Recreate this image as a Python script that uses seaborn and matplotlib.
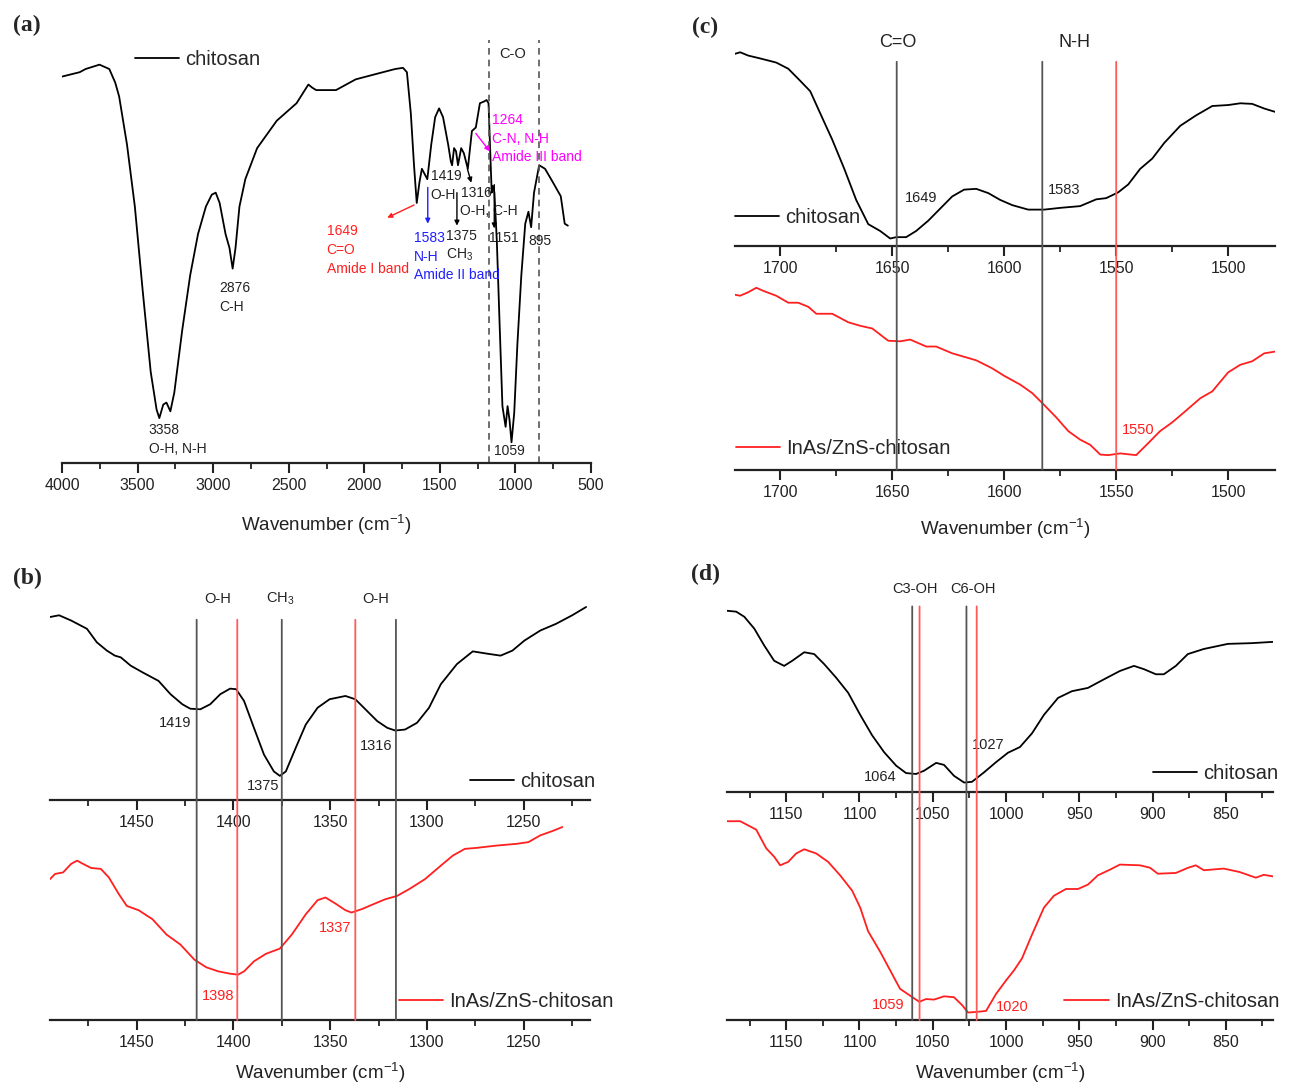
import matplotlib
matplotlib.use("Agg")
import matplotlib.pyplot as plt
import seaborn as sns
from matplotlib.patches import ConnectionPatch
from matplotlib.ticker import MultipleLocator

sns.set_theme(style="white")
plt.rcParams['font.family'] = ['Liberation Sans', 'DejaVu Sans']
plt.rcParams['mathtext.default'] = 'regular'
plt.rcParams['axes.unicode_minus'] = False

RED = '#ff1f1f'
BLUE = '#2020ff'
MAGENTA = '#ff00ff'
GREY = '#555555'

# ---- (a) full chitosan spectrum: wavenumber / transmittance (a.u.)
a_wn = [4000, 3883, 3844, 3752, 3687, 3648, 3622, 3570, 3518, 3465, 3413, 3374, 3356,
        3330, 3309, 3283, 3257, 3205, 3152, 3100, 3048, 3009, 2983, 2957, 2918, 2892,
        2871, 2852, 2826, 2787, 2709, 2579, 2448, 2370, 2344, 2318, 2187, 2057, 1927,
        1796, 1744, 1718, 1692, 1671, 1653, 1635, 1619, 1601, 1583, 1557, 1531, 1505,
        1479, 1445, 1427, 1419, 1406, 1393, 1380, 1359, 1341, 1315, 1288, 1262, 1235,
        1209, 1191, 1178, 1170, 1157, 1149, 1139, 1123, 1104, 1086, 1065, 1052, 1039,
        1026, 1008, 987, 961, 935, 914, 896, 877, 843, 804, 752, 700, 674, 653]
a_t = [97.2, 98.3, 99.1, 100.2, 99.1, 95.7, 92.2, 80.1, 64.5, 42.9, 22.9, 13.4, 11.3,
       14.7, 15.2, 13.0, 17.7, 33.3, 47.2, 57.6, 64.5, 67.5, 68.0, 65.4, 57.6, 54.1,
       48.9, 54.1, 64.5, 71.4, 79.2, 86.1, 90.5, 95.2, 94.4, 93.8, 93.8, 96.5, 97.8,
       99.1, 99.4, 98.3, 87.9, 74.9, 65.4, 70.6, 74.0, 72.7, 71.4, 80.1, 87.0, 89.2,
       87.0, 80.1, 75.8, 74.9, 79.2, 78.4, 74.9, 79.2, 77.9, 74.0, 83.5, 84.4, 90.5,
       90.9, 91.3, 90.5, 81.8, 68.0, 69.7, 68.0, 55.8, 34.2, 14.3, 9.1, 14.3, 10.8,
       5.2, 12.6, 29.9, 47.2, 60.2, 63.2, 59.3, 68.0, 74.9, 74.0, 70.6, 67.1, 60.2, 59.7]
a_ticks = [4000, 3500, 3000, 2500, 2000, 1500, 1000, 500]
a_bands = [1178, 844]

# ---- (b) 1500-1200 region
b_wn_chi = [1494.8, 1490.1, 1483.9, 1475.7, 1470.6, 1465.4, 1461.3, 1458.2, 1453.1, 1446.9,
            1438.7, 1432.5, 1426.4, 1422.3, 1417.1, 1412.0, 1406.8, 1401.7, 1398.6, 1394.5,
            1389.4, 1384.2, 1379.1, 1376.0, 1372.9, 1367.8, 1362.6, 1356.5, 1350.3, 1342.1,
            1337.0, 1331.8, 1325.7, 1320.5, 1316.4, 1311.3, 1305.1, 1298.9, 1292.8, 1284.5,
            1276.3, 1268.1, 1261.9, 1255.8, 1249.6, 1241.4, 1233.2, 1224.9, 1217.7]
b_t_chi = [94.8, 95.7, 93.0, 88.7, 81.7, 77.4, 74.8, 73.9, 69.6, 66.1,
           61.7, 54.8, 49.6, 47.3, 47.0, 49.6, 54.8, 57.7, 57.4, 51.3,
           37.4, 23.5, 14.8, 12.5, 14.8, 27.0, 39.1, 47.8, 52.2, 53.9,
           52.2, 47.0, 40.9, 37.4, 36.0, 36.5, 40.0, 47.8, 60.0, 70.4,
           77.0, 75.7, 74.8, 77.4, 82.6, 87.8, 91.3, 95.7, 100.0]
b_wn_qd = [1494.8, 1492.2, 1488.0, 1483.9, 1480.8, 1477.7, 1473.6, 1468.5, 1464.4, 1459.2,
           1455.1, 1449.0, 1441.8, 1434.6, 1427.4, 1420.2, 1414.0, 1407.8, 1401.7, 1397.6,
           1394.5, 1389.4, 1383.2, 1376.0, 1369.8, 1362.6, 1356.5, 1352.4, 1347.2, 1342.1,
           1339.0, 1333.8, 1327.7, 1321.5, 1315.4, 1309.2, 1301.0, 1292.8, 1286.6, 1280.4,
           1274.3, 1264.0, 1253.7, 1247.5, 1241.4, 1235.2, 1230.0]
b_t_qd = [73.0, 75.7, 76.5, 80.9, 82.6, 80.9, 78.8, 78.3, 73.9, 65.2,
          59.1, 56.9, 52.2, 44.3, 39.1, 31.3, 27.3, 25.2, 24.0, 23.5,
          25.2, 30.4, 34.3, 37.0, 44.3, 54.8, 62.1, 63.5, 60.3, 56.9,
          55.7, 57.4, 60.0, 62.6, 64.3, 67.8, 73.0, 80.0, 85.2, 88.7,
          89.2, 90.4, 91.3, 92.2, 95.7, 97.9, 100.0]
b_ticks = [1450, 1400, 1350, 1300, 1250]
b_lines_chi = [1419, 1375, 1316]
b_lines_qd = [1398, 1337]

# ---- (c) amide region
c_wn_chi = [1720.2, 1717.9, 1714.3, 1708.9, 1701.8, 1696.4, 1691.1, 1686.6, 1682.1, 1676.8,
            1671.4, 1666.1, 1660.7, 1655.4, 1650.9, 1648.2, 1643.8, 1639.3, 1633.9, 1628.6,
            1623.2, 1617.9, 1612.5, 1607.1, 1601.8, 1596.4, 1589.3, 1582.1, 1575.0, 1566.1,
            1558.9, 1554.5, 1549.1, 1544.6, 1539.3, 1533.9, 1528.6, 1521.4, 1514.3, 1507.1,
            1500.0, 1494.6, 1489.3, 1483.9, 1479.1]
c_t_chi = [98.8, 99.6, 97.9, 96.4, 94.3, 91.1, 84.9, 79.5, 68.0, 54.6,
           39.5, 23.5, 11.0, 7.5, 3.6, 4.3, 4.3, 7.5, 12.8, 19.0,
           25.3, 28.8, 29.2, 27.0, 23.5, 20.8, 18.5, 18.5, 19.4, 20.3,
           23.8, 24.4, 27.4, 31.5, 39.5, 44.8, 52.8, 61.7, 67.1, 71.9,
           72.4, 73.3, 73.0, 70.6, 68.9]
c_wn_qd = [1720.2, 1717.9, 1714.3, 1710.7, 1707.1, 1701.8, 1696.4, 1692.0, 1687.5, 1683.9,
           1676.8, 1669.6, 1664.3, 1658.9, 1651.8, 1646.4, 1642.0, 1634.8, 1630.4, 1623.2,
           1612.5, 1605.4, 1600.0, 1592.9, 1587.5, 1582.1, 1576.8, 1571.4, 1566.1, 1561.6,
           1557.1, 1553.6, 1548.2, 1541.1, 1535.7, 1530.4, 1525.0, 1519.6, 1512.5, 1507.1,
           1500.0, 1494.6, 1489.3, 1483.9, 1479.1]
c_t_qd = [90.2, 89.7, 91.5, 93.8, 92.0, 89.7, 86.1, 86.1, 84.0, 80.4,
          80.4, 76.0, 74.2, 72.8, 66.5, 66.2, 67.1, 63.5, 63.5, 60.0,
          56.4, 52.3, 48.4, 43.9, 39.5, 33.3, 27.0, 19.9, 15.5, 12.8,
          7.8, 7.5, 8.4, 7.5, 13.7, 19.9, 24.4, 29.7, 36.8, 40.4,
          50.2, 54.1, 55.9, 60.0, 60.9]
c_ticks = [1700, 1650, 1600, 1550, 1500]
c_lines_chi = [1648, 1583]
c_lines_qd = [1550]

# ---- (d) C-O region
d_wn_chi = [1190.4, 1184.1, 1178.6, 1171.8, 1165.0, 1158.2, 1151.4, 1145.9, 1137.7, 1130.9,
            1124.1, 1115.9, 1107.7, 1099.5, 1091.4, 1083.2, 1075.0, 1068.2, 1061.4, 1055.9,
            1047.7, 1042.3, 1035.5, 1028.6, 1023.2, 1015.0, 1006.8, 998.6, 990.5, 982.3,
            974.1, 964.5, 955.0, 944.1, 933.2, 922.3, 912.7, 905.9, 897.7, 892.3,
            884.1, 875.9, 865.0, 848.6, 832.3, 817.8]
d_t_chi = [99.6, 99.1, 96.3, 89.8, 80.5, 72.1, 69.3, 72.1, 76.8, 75.8,
           70.3, 62.8, 54.5, 42.4, 31.2, 21.9, 14.5, 10.4, 9.9, 11.7,
           16.0, 14.9, 8.9, 5.2, 5.6, 10.8, 16.4, 21.6, 24.7, 32.2,
           42.4, 51.7, 55.4, 57.2, 61.9, 66.5, 69.3, 67.5, 64.7, 64.7,
           69.3, 75.8, 78.6, 81.4, 81.8, 82.5]
d_wn_qd = [1190.4, 1181.4, 1170.5, 1163.6, 1158.2, 1154.1, 1148.6, 1143.2, 1137.7, 1129.5,
           1121.4, 1113.2, 1105.0, 1099.5, 1094.1, 1085.9, 1079.1, 1072.3, 1065.5, 1059.2,
           1054.5, 1049.1, 1042.3, 1035.5, 1030.0, 1025.9, 1019.1, 1013.6, 1006.8, 1000.0,
           994.5, 989.1, 982.3, 974.1, 967.3, 959.1, 950.9, 944.1, 937.3, 929.1,
           922.3, 908.6, 901.8, 896.4, 884.1, 875.9, 870.5, 865.0, 851.4, 840.5,
           829.5, 824.1, 817.8]
d_t_qd = [109.1, 109.1, 104.5, 94.2, 89.6, 84.9, 86.8, 91.4, 93.7, 91.4,
          86.8, 79.4, 71.0, 61.7, 48.7, 37.5, 27.3, 17.1, 13.4, 10.0,
          11.5, 11.2, 13.0, 12.5, 8.2, 4.1, 4.5, 5.0, 14.3, 21.7,
          27.3, 33.8, 46.8, 61.7, 68.2, 71.9, 71.9, 74.3, 79.4, 82.5,
          85.3, 84.9, 83.6, 80.3, 80.7, 83.5, 84.9, 82.2, 83.1, 81.2,
          78.1, 79.7, 78.8]
d_ticks = [1150, 1100, 1050, 1000, 950, 900, 850]
d_lines_chi = [1064, 1027]
d_lines_qd = [1059, 1020]

W, H = 1290, 1087
fig = plt.figure(figsize=(W / 100, H / 100), dpi=100)


def px_axes(left, right, top, bottom):
    ax = fig.add_axes([left / W, 1 - bottom / H, (right - left) / W, (bottom - top) / H])
    ax.set_facecolor('none')
    return ax


def style_axis(ax, xlim, ylim, ticks, minor):
    ax.set_xlim(*xlim)
    ax.set_ylim(*ylim)
    for s in ['left', 'right', 'top']:
        ax.spines[s].set_visible(False)
    ax.spines['bottom'].set_linewidth(1.6)
    ax.spines['bottom'].set_color('#222222')
    ax.set_yticks([])
    ax.set_xticks(ticks)
    ax.xaxis.set_minor_locator(MultipleLocator(minor))
    ax.tick_params(axis='x', which='major', direction='out', length=7, width=1.5,
                   labelsize=11.5, pad=4, colors='#222222', bottom=True)
    ax.tick_params(axis='x', which='minor', direction='out', length=4, width=1.3,
                   bottom=True, colors='#222222')
    ax.set_xlabel('')
    ax.set_ylabel('')


def curve(ax, x, y, color, label):
    sns.lineplot(x=x, y=y, ax=ax, color=color, lw=1.3, estimator=None, label=label,
                 solid_joinstyle='round')


def legend(ax, fx, fy):
    ax.legend(loc='center left', bbox_to_anchor=(fx, fy), frameon=False, fontsize=14.5,
              handlelength=2.2, handletextpad=0.3, borderpad=0, borderaxespad=0)


def xlabel(ax, pad):
    ax.set_xlabel('Wavenumber (cm$^{-1}$)', fontsize=13.5, labelpad=pad, color='#222222')


def vlines(ax_top, ax_bot, xs, t_top, color):
    for x in xs:
        con = ConnectionPatch(xyA=(x, t_top), coordsA='data', axesA=ax_top,
                              xyB=(x, 0), coordsB='data', axesB=ax_bot,
                              color=color, lw=1.3)
        fig.add_artist(con)


# ================= (a)
ax_a = px_axes(62, 591, 40, 463)
curve(ax_a, a_wn, a_t, 'black', 'chitosan')
style_axis(ax_a, (4000, 500), (0, 106.4), a_ticks, 250)
xlabel(ax_a, 14)
legend(ax_a, 0.138, 0.953)
for x in a_bands:
    ax_a.axvline(x, color=GREY, lw=1.2, ls=(0, (4, 3)))
ax_a.text(1019, 103, 'C-O', fontsize=10.5, ha='center', va='center', color='#222222')

a_notes = [
    ('3358', 3426, 8.2, 'black'), ('O-H, N-H', 3426, 3.5, 'black'),
    ('2876', 2962, 43.9, 'black'), ('C-H', 2962, 39.2, 'black'),
    ('1649', 2250, 58.3, RED), ('C=O', 2250, 53.5, RED), ('Amide I band', 2250, 48.7, RED),
    ('1583', 1674, 56.7, BLUE), ('N-H', 1674, 51.9, BLUE), ('Amide II band', 1674, 47.2, BLUE),
    ('1419', 1561, 72.3, 'black'), ('O-H', 1566, 67.5, 'black'),
    ('1375', 1462, 57.1, 'black'), ('CH$_3$', 1462, 52.4, 'black'),
    ('1316', 1358, 68.0, 'black'), ('O-H, C-H', 1366, 63.5, 'black'),
    ('1151', 1176, 56.7, 'black'), ('895', 915, 55.8, 'black'), ('1059', 1144, 3.0, 'black'),
    ('1264', 1157, 86.4, MAGENTA), ('C-N, N-H', 1157, 81.6, MAGENTA),
    ('Amide III band', 1157, 76.9, MAGENTA),
]
for txt, x, y, c in a_notes:
    ax_a.text(x, y, txt, fontsize=10, ha='left', va='center',
              color='#222222' if c == 'black' else c)

a_arrows = [
    ((1671, 64.9), (1848, 61.7), RED),
    ((1580, 69.3), (1580, 60.2), BLUE),
    ((1387, 68.0), (1387, 59.7), 'black'),
    ((1318, 74.0), (1292, 70.5), 'black'),
    ((1140, 70.0), (1140, 59.0), 'black'),
    ((1262, 82.9), (1170, 78.4), MAGENTA),
]
for start, end, c in a_arrows:
    ax_a.annotate('', xy=end, xytext=start,
                  arrowprops=dict(arrowstyle='-|>', color=c, lw=1.0, mutation_scale=7,
                                  shrinkA=0, shrinkB=0))

# ================= (b)
ax_b1 = px_axes(50, 590, 590, 800)
ax_b2 = px_axes(50, 590, 812, 1020)
curve(ax_b1, b_wn_chi, b_t_chi, 'black', 'chitosan')
curve(ax_b2, b_wn_qd, b_t_qd, RED, 'InAs/ZnS-chitosan')
style_axis(ax_b1, (1494.8, 1215.7), (0, 108.8), b_ticks, 25)
style_axis(ax_b2, (1494.8, 1215.7), (0, 107.8), b_ticks, 25)
xlabel(ax_b2, 8)
legend(ax_b1, 0.778, 0.088)
legend(ax_b2, 0.646, 0.087)
vlines(ax_b1, ax_b2, b_lines_chi, 93.4, GREY)
vlines(ax_b1, ax_b2, b_lines_qd, 93.4, '#ff5a5a')
for txt, x in [('O-H', 1408.3), ('CH$_3$', 1376.0), ('O-H', 1326.7)]:
    ax_b1.text(x, 104.3, txt, fontsize=10.5, ha='center', va='center', color='#222222')
for txt, x, y in [('1419', 1430, 40.0), ('1375', 1384.8, 7.5), ('1316', 1326, 27.8)]:
    ax_b1.text(x, y, txt, fontsize=10.5, ha='center', va='center', color='#222222')
for txt, x, y in [('1398', 1407.9, 12.2), ('1337', 1347.2, 47.8)]:
    ax_b2.text(x, y, txt, fontsize=10.5, ha='center', va='center', color=RED)

# ================= (c)
ax_c1 = px_axes(735, 1275, 35, 245.5)
ax_c2 = px_axes(735, 1275, 255, 469.7)
curve(ax_c1, c_wn_chi, c_t_chi, 'black', 'chitosan')
curve(ax_c2, c_wn_qd, c_t_qd, RED, 'InAs/ZnS-chitosan')
style_axis(ax_c1, (1720.2, 1479.1), (0, 108.5), c_ticks, 25)
style_axis(ax_c2, (1720.2, 1479.1), (0, 110.7), c_ticks, 25)
xlabel(ax_c2, 12)
legend(ax_c1, 0.0, 0.135)
legend(ax_c2, 0.002, 0.10)
vlines(ax_c1, ax_c2, c_lines_chi, 94.7, GREY)
vlines(ax_c1, ax_c2, c_lines_qd, 94.7, '#ff5a5a')
for txt, x in [('C=O', 1647.3), ('N-H', 1568.8)]:
    ax_c1.text(x, 104.4, txt, fontsize=13, ha='center', va='center', color='#222222')
for txt, x, y in [('1649', 1637.1, 24.4), ('1583', 1573.2, 28.8)]:
    ax_c1.text(x, y, txt, fontsize=10.5, ha='center', va='center', color='#222222')
ax_c2.text(1540.2, 20.3, '1550', fontsize=10.5, ha='center', va='center', color=RED)

# ================= (d)
ax_d1 = px_axes(727, 1273, 580, 792)
ax_d2 = px_axes(727, 1273, 805, 1020)
curve(ax_d1, d_wn_chi, d_t_chi, 'black', 'chitosan')
curve(ax_d2, d_wn_qd, d_t_qd, RED, 'InAs/ZnS-chitosan')
style_axis(ax_d1, (1190.4, 817.8), (0, 116.5), d_ticks, 25)
style_axis(ax_d2, (1190.4, 817.8), (0, 118), d_ticks, 25)
xlabel(ax_d2, 8)
legend(ax_d1, 0.78, 0.087)
legend(ax_d2, 0.618, 0.088)
vlines(ax_d1, ax_d2, d_lines_chi, 102, GREY)
vlines(ax_d1, ax_d2, d_lines_qd, 102, '#ff5a5a')
for txt, x in [('C3-OH', 1061.9), ('C6-OH', 1022.4)]:
    ax_d1.text(x, 111.5, txt, fontsize=10.5, ha='center', va='center', color='#222222')
for txt, x, y in [('1064', 1085.9, 8.0), ('1027', 1012.3, 25.7)]:
    ax_d1.text(x, y, txt, fontsize=10.5, ha='center', va='center', color='#222222')
for txt, x, y in [('1059', 1080.5, 8.2), ('1020', 995.4, 7.4)]:
    ax_d2.text(x, y, txt, fontsize=10.5, ha='center', va='center', color=RED)

# panel letters
for lab, x, y in [('(a)', 27, 25), ('(b)', 27, 578), ('(c)', 705, 27), ('(d)', 705, 574)]:
    fig.text(x / W, 1 - y / H, lab, fontsize=17, fontweight='bold', ha='center', va='center',
             family=['Liberation Serif', 'DejaVu Serif'])

fig.savefig('out.png', dpi=100, facecolor='white')
